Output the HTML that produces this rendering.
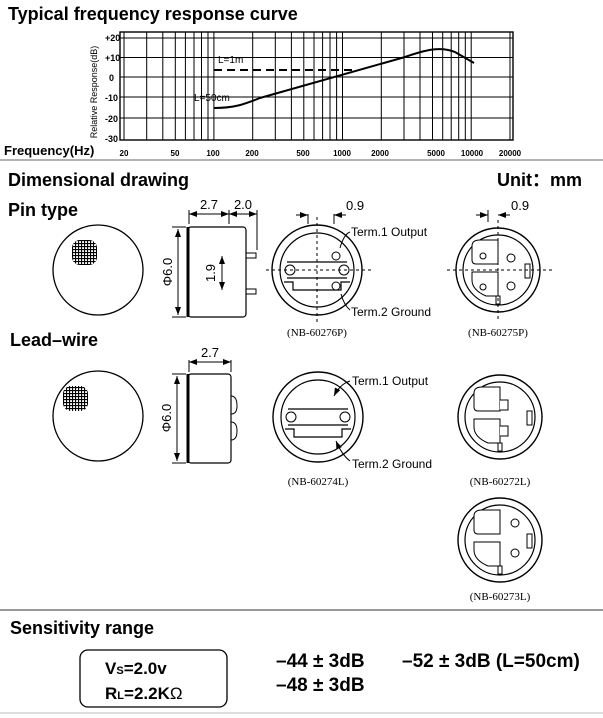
<!DOCTYPE html>
<html><head><meta charset="utf-8"><style>
html,body{margin:0;padding:0;background:#fff;}
svg{display:block;}
.t{font-family:"Liberation Sans",sans-serif;font-weight:bold;fill:#000;}
.s{font-family:"Liberation Sans",sans-serif;fill:#000;}
.n{font-family:"Liberation Serif",serif;fill:#000;}
</style></head><body>
<svg width="603" height="718" viewBox="0 0 603 718" xmlns="http://www.w3.org/2000/svg">
<defs>
<marker id="ar" markerWidth="8" markerHeight="6" refX="8" refY="3" orient="auto" markerUnits="userSpaceOnUse"><path d="M0,0 L8,3 L0,6z" fill="#000"/></marker>
<pattern id="mesh" width="3" height="3" patternUnits="userSpaceOnUse"><rect width="3" height="3" fill="#fff"/><path d="M0,0.5H3M0.5,0V3" stroke="#000" stroke-width="1.2"/></pattern>
<g id="cup">
 <circle r="45" fill="#fff" stroke="#000" stroke-width="1.4"/>
 <circle r="37" fill="none" stroke="#000" stroke-width="1.2"/>
 <path d="M-30,-8 H30 M-30,8 H30" stroke="#000" stroke-width="1.2"/>
 <circle cx="-27" cy="0" r="5" fill="#fff" stroke="#000"/>
 <circle cx="27" cy="0" r="5" fill="#fff" stroke="#000"/>
 <path d="M-33,12 L-24,12 L-24,20 L24,20 L24,12 L33,12" fill="none" stroke="#000" stroke-width="1.2"/>
</g>
<g id="pads">
 <circle r="42" fill="#fff" stroke="#000" stroke-width="1.4"/>
 <circle r="35" fill="none" stroke="#000" stroke-width="1.2"/>
 <path d="M-26,-24 Q-26,-30 -18,-30 L0,-30 L0,-6 L-22,-6 Q-26,-6 -26,-10z" fill="#fff" stroke="#000"/>
 <path d="M-26,2 L0,2 L0,26 L-12,26 Q-26,20 -26,10z" fill="#fff" stroke="#000"/>
 <rect x="27" y="-6" width="5" height="14" fill="#fff" stroke="#000"/>
 <rect x="-2" y="26" width="4" height="8" fill="#fff" stroke="#000"/>
</g>
</defs>

<text x="8" y="20" class="t" font-size="18">Typical frequency response curve</text>
<g stroke="#000" stroke-width="1">
<rect x="120" y="32" width="393" height="108" fill="none" stroke-width="1.4"/>
<path d="M120,38H513M120,57.5H513M120,77H513M120,97H513M120,118H513"/>
<path d="M124,32V140M146.7,32V140M162.8,32V140M175.3,32V140M185.4,32V140M194,32V140M201.5,32V140M208,32V140M213.9,32V140M252.7,32V140M275.3,32V140M291.4,32V140M303.8,32V140M314,32V140M322.6,32V140M330,32V140M336.6,32V140M342.5,32V140M381.3,32V140M404,32V140M420,32V140M432.5,32V140M442.7,32V140M451.2,32V140M458.7,32V140M465.3,32V140M471.2,32V140M510,32V140"/>
</g>
<path d="M214,108 C235,108 245,104 260,98 L405,57 C425,50 440,46 455,52 L474,63" fill="none" stroke="#000" stroke-width="2"/>
<path d="M214,70 H357" stroke="#000" stroke-width="2" stroke-dasharray="8,5"/>
<text x="218" y="63" class="s" font-size="10">L=1m</text>
<text x="194" y="101" class="s" font-size="10">L=50cm</text>
<g class="s" font-size="9" font-weight="bold">
<text x="105" y="41">+20</text><text x="105" y="61">+10</text><text x="109" y="81">0</text><text x="105" y="101">-10</text><text x="105" y="122">-20</text><text x="105" y="142">-30</text>
</g>
<text transform="translate(97,92) rotate(-90)" class="s" font-size="9" text-anchor="middle">Relative Response(dB)</text>
<text x="4" y="155" class="t" font-size="13">Frequency(Hz)</text>
<g class="s" font-size="8" font-weight="bold" text-anchor="middle">
<text x="124" y="156">20</text><text x="175" y="156">50</text><text x="213" y="156">100</text><text x="252" y="156">200</text><text x="303" y="156">500</text><text x="342" y="156">1000</text><text x="380" y="156">2000</text><text x="436" y="156">5000</text><text x="472" y="156">10000</text><text x="510" y="156">20000</text>
</g>
<line x1="0" y1="160" x2="603" y2="160" stroke="#999" stroke-width="1.5"/>

<text x="8" y="186" class="t" font-size="18">Dimensional drawing</text>
<text x="497" y="186" class="t" font-size="18">Unit：mm</text>
<text x="8" y="216" class="t" font-size="18">Pin type</text>

<circle cx="98" cy="270" r="45" fill="#fff" stroke="#000" stroke-width="1.3"/>
<rect x="72" y="240" width="25" height="25" rx="8" fill="url(#mesh)"/>
<rect x="188" y="227" width="58" height="90" rx="3" fill="#fff" stroke="#000" stroke-width="1.2"/>
<line x1="188" y1="227" x2="188" y2="317" stroke="#000" stroke-width="3"/>
<path d="M246,253H256V258H246M246,289H256V294H246" fill="none" stroke="#000"/>
<line x1="178" y1="229" x2="178" y2="315" stroke="#000" marker-end="url(#ar)"/>
<line x1="178" y1="315" x2="178" y2="229" stroke="#000" marker-end="url(#ar)"/>
<path d="M172,227H186M172,317H186" stroke="#000"/>
<text transform="translate(172,272) rotate(-90)" class="s" font-size="13" text-anchor="middle">Φ6.0</text>
<line x1="222" y1="256" x2="222" y2="290" stroke="#000" marker-end="url(#ar)"/>
<line x1="222" y1="290" x2="222" y2="256" stroke="#000" marker-end="url(#ar)"/>
<text transform="translate(215,273) rotate(-90)" class="s" font-size="13" text-anchor="middle">1.9</text>
<path d="M189,210V224M229,210V224M257,210V250" stroke="#000"/>
<line x1="189" y1="214" x2="229" y2="214" stroke="#000" marker-end="url(#ar)"/>
<line x1="229" y1="214" x2="189" y2="214" stroke="#000" marker-end="url(#ar)"/>
<line x1="229" y1="214" x2="257" y2="214" stroke="#000" marker-end="url(#ar)"/>
<line x1="257" y1="214" x2="229" y2="214" stroke="#000" marker-end="url(#ar)"/>
<text x="209" y="209" class="s" font-size="13" text-anchor="middle">2.7</text>
<text x="243" y="209" class="s" font-size="13" text-anchor="middle">2.0</text>

<g transform="translate(317,270)"><use href="#cup"/></g>
<circle cx="336" cy="256" r="4" fill="#fff" stroke="#000"/><circle cx="336" cy="286" r="4" fill="#fff" stroke="#000"/>
<path d="M266,270H372M317,217V323" stroke="#000" stroke-dasharray="3,3"/>
<path d="M308,214V224M334,214V224" stroke="#000"/>
<line x1="296" y1="215" x2="308" y2="215" stroke="#000" marker-end="url(#ar)"/>
<line x1="346" y1="215" x2="334" y2="215" stroke="#000" marker-end="url(#ar)"/>
<text x="346" y="210" class="s" font-size="13">0.9</text>
<path d="M350,232 Q344,234 340,248" fill="none" stroke="#000"/>
<path d="M350,310 Q344,305 341,294" fill="none" stroke="#000"/>
<text x="351" y="236" class="s" font-size="12">Term.1 Output</text>
<text x="351" y="316" class="s" font-size="12">Term.2 Ground</text>
<text x="317" y="336" class="n" font-size="11" text-anchor="middle">(NB-60276P)</text>

<g transform="translate(498,270)"><use href="#pads"/></g>
<circle cx="483" cy="256" r="3" fill="#fff" stroke="#000"/><circle cx="483" cy="287" r="3" fill="#fff" stroke="#000"/>
<circle cx="511" cy="258" r="4" fill="#fff" stroke="#000"/><circle cx="511" cy="286" r="4" fill="#fff" stroke="#000"/>
<path d="M447,270H552M498,220V322" stroke="#000" stroke-dasharray="3,3"/>
<path d="M488,210V222" stroke="#000"/>
<line x1="476" y1="215" x2="488" y2="215" stroke="#000" marker-end="url(#ar)"/>
<line x1="510" y1="215" x2="498" y2="215" stroke="#000" marker-end="url(#ar)"/>
<text x="511" y="210" class="s" font-size="13">0.9</text>
<text x="498" y="336" class="n" font-size="11" text-anchor="middle">(NB-60275P)</text>

<text x="10" y="346" class="t" font-size="18">Lead–wire</text>
<circle cx="98" cy="416" r="45" fill="#fff" stroke="#000" stroke-width="1.3"/>
<rect x="63" y="386" width="25" height="25" rx="8" fill="url(#mesh)"/>
<rect x="188" y="374" width="43" height="89" rx="3" fill="#fff" stroke="#000" stroke-width="1.2"/>
<line x1="188" y1="374" x2="188" y2="463" stroke="#000" stroke-width="3"/>
<path d="M231,396 Q237,396 237,406 Q237,414 231,414 M231,422 Q237,422 237,431 Q237,440 231,440" fill="none" stroke="#000"/>
<line x1="177" y1="376" x2="177" y2="461" stroke="#000" marker-end="url(#ar)"/>
<line x1="177" y1="461" x2="177" y2="376" stroke="#000" marker-end="url(#ar)"/>
<path d="M172,374H186M172,463H186" stroke="#000"/>
<text transform="translate(171,418) rotate(-90)" class="s" font-size="13" text-anchor="middle">Φ6.0</text>
<path d="M189,360V372M231,360V372" stroke="#000"/>
<line x1="189" y1="362" x2="231" y2="362" stroke="#000" marker-end="url(#ar)"/>
<line x1="231" y1="362" x2="189" y2="362" stroke="#000" marker-end="url(#ar)"/>
<text x="210" y="357" class="s" font-size="13" text-anchor="middle">2.7</text>

<g transform="translate(318,417)"><use href="#cup"/></g>
<path d="M350,381 Q340,384 334,396" fill="none" stroke="#000" marker-end="url(#ar)"/>
<path d="M350,461 Q342,455 336,441" fill="none" stroke="#000" marker-end="url(#ar)"/>
<text x="352" y="385" class="s" font-size="12">Term.1 Output</text>
<text x="352" y="468" class="s" font-size="12">Term.2 Ground</text>
<text x="318" y="485" class="n" font-size="11" text-anchor="middle">(NB-60274L)</text>

<g transform="translate(500,417)"><use href="#pads"/></g>
<path d="M500,400H508V410H500M500,426H508V436H500" fill="#fff" stroke="#000"/>
<text x="500" y="485" class="n" font-size="11" text-anchor="middle">(NB-60272L)</text>
<g transform="translate(500,540)"><use href="#pads"/></g>
<circle cx="515" cy="523" r="4" fill="#fff" stroke="#000"/><circle cx="515" cy="553" r="4" fill="#fff" stroke="#000"/>
<text x="500" y="600" class="n" font-size="11" text-anchor="middle">(NB-60273L)</text>

<line x1="0" y1="610" x2="603" y2="610" stroke="#777" stroke-width="1.5"/>
<text x="10" y="634" class="t" font-size="18">Sensitivity range</text>
<rect x="80" y="650" width="147" height="57" rx="8" fill="none" stroke="#000" stroke-width="1.3"/>
<text x="105" y="674" class="t" font-size="17">V<tspan font-size="11">S</tspan>=2.0v</text>
<text x="105" y="699" class="t" font-size="17">R<tspan font-size="11">L</tspan>=2.2K<tspan font-weight="normal">Ω</tspan></text>
<text x="276" y="667" class="t" font-size="19">–44 ± 3dB</text>
<text x="276" y="691" class="t" font-size="19">–48 ± 3dB</text>
<text x="402" y="667" class="t" font-size="19">–52 ± 3dB (L=50cm)</text>
<line x1="0" y1="713" x2="603" y2="713" stroke="#bbb" stroke-width="1"/>
</svg>
</body></html>
